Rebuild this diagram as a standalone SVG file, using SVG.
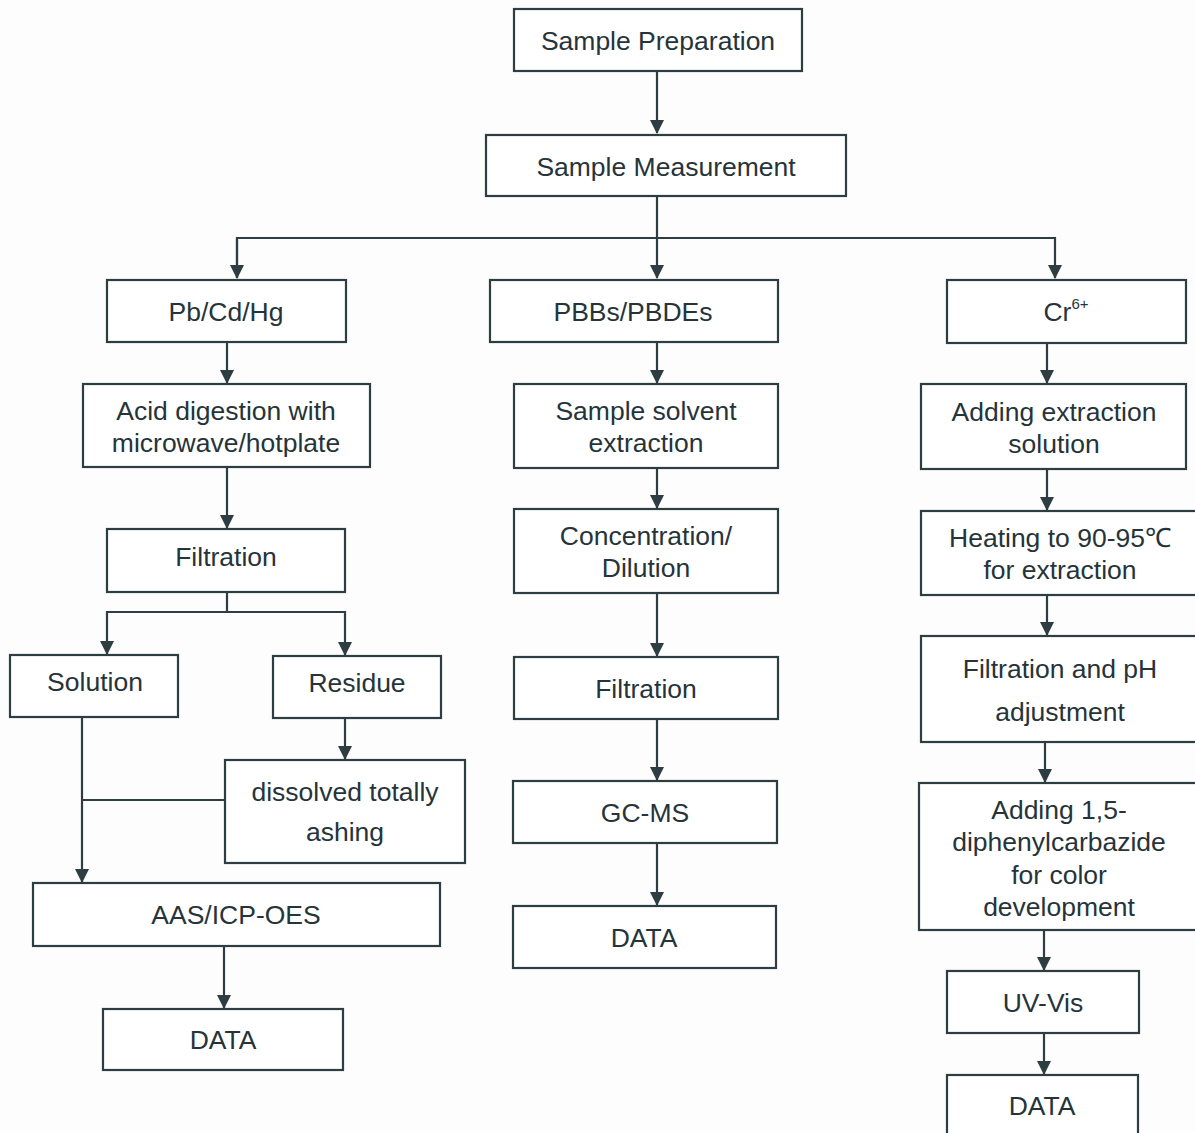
<svg xmlns="http://www.w3.org/2000/svg" width="1195" height="1133" viewBox="0 0 1195 1133">
<style>
.box{fill:#ffffff;stroke:#2e3d42;stroke-width:2.2}
.t{font-family:"Liberation Sans",Arial,sans-serif;font-size:26.5px;fill:#26343a;text-anchor:middle}
.sup{font-size:15px}
.c{fill:none;stroke:#2e3d42;stroke-width:2.2}
</style>
<defs>
<marker id="ah" viewBox="0 0 14 14" refX="13" refY="7" markerWidth="14" markerHeight="14" markerUnits="userSpaceOnUse" orient="auto">
<path d="M0,0 L14,7 L0,14 Z" fill="#2e3d42"/>
</marker>
</defs>
<rect width="1195" height="1133" fill="#fdfdfd"/>
<g id="connectors">
<path class="c" d="M657,71 V133" marker-end="url(#ah)"/>
<path class="c" d="M657,196 V278" marker-end="url(#ah)"/>
<path class="c" d="M237,278 V238 H1055 V278" marker-end="url(#ah)"/>
<path class="c" d="M237,238 V278" marker-end="url(#ah)"/>
<path class="c" d="M227,342 V383" marker-end="url(#ah)"/>
<path class="c" d="M227,467 V528" marker-end="url(#ah)"/>
<path class="c" d="M227,592 V612 H107 V654" marker-end="url(#ah)"/>
<path class="c" d="M227,612 H345 V655" marker-end="url(#ah)"/>
<path class="c" d="M345,718 V759" marker-end="url(#ah)"/>
<path class="c" d="M82,717 V882" marker-end="url(#ah)"/>
<path class="c" d="M225,800 H82"/>
<path class="c" d="M224,946 V1008" marker-end="url(#ah)"/>
<path class="c" d="M657,342 V383" marker-end="url(#ah)"/>
<path class="c" d="M657,468 V508" marker-end="url(#ah)"/>
<path class="c" d="M657,593 V656" marker-end="url(#ah)"/>
<path class="c" d="M657,719 V780" marker-end="url(#ah)"/>
<path class="c" d="M657,843 V905" marker-end="url(#ah)"/>
<path class="c" d="M1047,343 V383" marker-end="url(#ah)"/>
<path class="c" d="M1047,469 V510" marker-end="url(#ah)"/>
<path class="c" d="M1047,595 V635" marker-end="url(#ah)"/>
<path class="c" d="M1045,742 V782" marker-end="url(#ah)"/>
<path class="c" d="M1044,930 V970" marker-end="url(#ah)"/>
<path class="c" d="M1044,1033 V1074" marker-end="url(#ah)"/>
</g>
<g id="n-prep"><rect class="box" x="514" y="9" width="288" height="62"/><text class="t" x="658" y="50">Sample Preparation</text></g>
<g id="n-meas"><rect class="box" x="486" y="135" width="360" height="61"/><text class="t" x="666" y="176">Sample Measurement</text></g>
<g id="n-pb"><rect class="box" x="107" y="280" width="239" height="62"/><text class="t" x="226" y="321">Pb/Cd/Hg</text></g>
<g id="n-pbb"><rect class="box" x="490" y="280" width="288" height="62"/><text class="t" x="633" y="321">PBBs/PBDEs</text></g>
<g id="n-cr"><rect class="box" x="947" y="280" width="239" height="63"/><text class="t" x="1066" y="321">Cr<tspan class="sup" dy="-12">6+</tspan></text></g>
<g id="n-acid"><rect class="box" x="83" y="384" width="287" height="83"/><text class="t" x="226" y="420">Acid digestion with</text><text class="t" x="226" y="452">microwave/hotplate</text></g>
<g id="n-filt1"><rect class="box" x="107" y="529" width="238" height="63"/><text class="t" x="226" y="566">Filtration</text></g>
<g id="n-sol"><rect class="box" x="10" y="655" width="168" height="62"/><text class="t" x="95" y="691">Solution</text></g>
<g id="n-res"><rect class="box" x="273" y="656" width="168" height="62"/><text class="t" x="357" y="692">Residue</text></g>
<g id="n-diss"><rect class="box" x="225" y="760" width="240" height="103"/><text class="t" x="345" y="801">dissolved totally</text><text class="t" x="345" y="841">ashing</text></g>
<g id="n-aas"><rect class="box" x="33" y="883" width="407" height="63"/><text class="t" x="236" y="924">AAS/ICP-OES</text></g>
<g id="n-data1"><rect class="box" x="103" y="1009" width="240" height="61"/><text class="t" x="223" y="1049">DATA</text></g>
<g id="n-solv"><rect class="box" x="514" y="384" width="264" height="84"/><text class="t" x="646" y="420">Sample solvent</text><text class="t" x="646" y="452">extraction</text></g>
<g id="n-conc"><rect class="box" x="514" y="509" width="264" height="84"/><text class="t" x="646" y="545">Concentration/</text><text class="t" x="646" y="577">Dilution</text></g>
<g id="n-filt2"><rect class="box" x="514" y="657" width="264" height="62"/><text class="t" x="646" y="698">Filtration</text></g>
<g id="n-gcms"><rect class="box" x="513" y="781" width="264" height="62"/><text class="t" x="645" y="822">GC-MS</text></g>
<g id="n-data2"><rect class="box" x="513" y="906" width="263" height="62"/><text class="t" x="644" y="947">DATA</text></g>
<g id="n-addext"><rect class="box" x="921" y="384" width="265" height="85"/><text class="t" x="1054" y="421">Adding extraction</text><text class="t" x="1054" y="453">solution</text></g>
<g id="n-heat"><rect class="box" x="921" y="511" width="290" height="84"/><text class="t" x="1060" y="547">Heating to 90-95℃</text><text class="t" x="1060" y="579">for extraction</text></g>
<g id="n-filtph"><rect class="box" x="921" y="636" width="290" height="106"/><text class="t" x="1060" y="678">Filtration and pH</text><text class="t" x="1060" y="721">adjustment</text></g>
<g id="n-dpc"><rect class="box" x="919" y="783" width="292" height="147"/><text class="t" x="1059" y="819">Adding 1,5-</text><text class="t" x="1059" y="851">diphenylcarbazide</text><text class="t" x="1059" y="884">for color</text><text class="t" x="1059" y="916">development</text></g>
<g id="n-uv"><rect class="box" x="947" y="971" width="192" height="62"/><text class="t" x="1043" y="1012">UV-Vis</text></g>
<g id="n-data3"><rect class="box" x="947" y="1075" width="191" height="70"/><text class="t" x="1042" y="1115">DATA</text></g>
</svg>
